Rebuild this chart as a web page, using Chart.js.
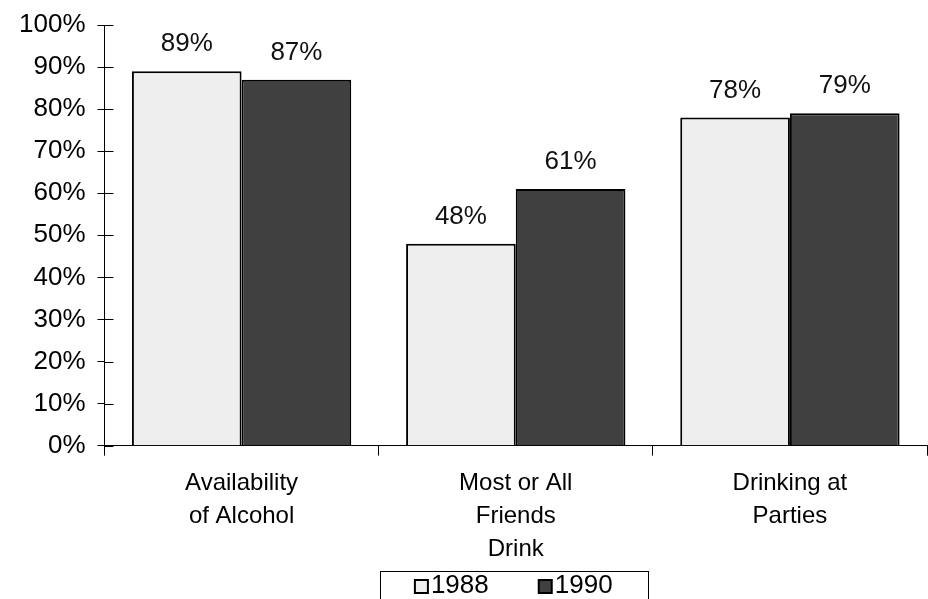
<!DOCTYPE html>
<html>
<head>
<meta charset="utf-8">
<script src="https://cdn.jsdelivr.net/npm/chart.js@4.4.1/dist/chart.umd.min.js"></script>
<style>
  html, body { margin: 0; padding: 0; background: #fff; }
  #wrap { width: 928px; height: 599px; }
</style>
</head>
<body>
<div id="wrap"><canvas id="mychart" width="928" height="599"></canvas></div>
<script>
	const categories = [['Availability', 'of Alcohol'], ['Most or All', 'Friends', 'Drink'], ['Drinking at', 'Parties']];
	const values1988 = [89, 48, 78];
	const values1990 = [87, 61, 79];
	const yTicks = [0, 10, 20, 30, 40, 50, 60, 70, 80, 90, 100];

	const font = 'Liberation Sans, Arial, sans-serif';

	// value labels above each bar
	const barLabels = {
		id: 'barLabels',
		afterDatasetsDraw(chart) {
			const ctx = chart.ctx;
			ctx.save();
			ctx.font = '26px ' + font;
			ctx.fillStyle = '#111';
			ctx.textAlign = 'center';
			ctx.textBaseline = 'alphabetic';
			chart.data.datasets.forEach(function (ds, i) {
				chart.getDatasetMeta(i).data.forEach(function (bar, j) {
					ctx.fillText(ds.data[j] + '%', bar.x, bar.y - 20);
				});
			});
			ctx.restore();
		}
	};

	// y tick marks crossing the axis + boxed legend at the bottom
	const extras = {
		id: 'extras',
		afterDraw(chart) {
			const ctx = chart.ctx;
			const y = chart.scales.y;
			const area = chart.chartArea;
			ctx.save();
			ctx.strokeStyle = '#000';
			ctx.lineWidth = 1;
			ctx.beginPath();
			y.ticks.forEach(function (t) {
				const py = Math.round(y.getPixelForValue(t.value)) + 0.5;
				ctx.moveTo(y.right, py);
				ctx.lineTo(y.right + 9, py);
			});
			ctx.stroke();

			// legend
			ctx.font = '26px ' + font;
			ctx.textBaseline = 'alphabetic';
			ctx.textAlign = 'left';
			const box = 13, gapBox = 3, gapItem = 50;
			const items = chart.data.datasets.map(function (ds) {
				return { text: ds.label, fill: ds.backgroundColor, w: ctx.measureText(ds.label).width };
			});
			let total = 0;
			items.forEach(function (it, i) { total += box + gapBox + it.w + (i ? gapItem : 0); });
			const cx = (area.left + area.right) / 2 - 2;
			let x = cx - total / 2;
			const base = 593;
			ctx.strokeRect(Math.round(cx - 134) + 0.5, 571.5, 268, 40);
			items.forEach(function (it) {
				ctx.fillStyle = it.fill;
				ctx.fillRect(x, base - box, box, box);
				ctx.lineWidth = 2;
				ctx.strokeRect(x, base - box, box, box);
				ctx.fillStyle = '#000';
				ctx.fillText(it.text, x + box + gapBox, base);
				x += box + gapBox + it.w + gapItem;
			});
			ctx.restore();
		}
	};

	var ctx = document.getElementById('mychart').getContext('2d');
	var myChart = new Chart(ctx, {
		type: 'bar',
		data: {
			labels: categories,
			datasets: [{
				label: '1988',
				data: values1988,
				backgroundColor: '#eeeeee',
				borderColor: '#000',
				borderWidth: 2,
				borderSkipped: 'bottom'
			}, {
				label: '1990',
				data: values1990,
				backgroundColor: '#404040',
				borderColor: '#000',
				borderWidth: 2,
				borderSkipped: 'bottom'
			}]
		},
		options: {
			responsive: false,
			animation: false,
			layout: { padding: { top: 9, right: 1, left: 7, bottom: 22 } },
			datasets: { bar: { categoryPercentage: 0.8, barPercentage: 1.0 } },
			plugins: {
				tooltip: { enabled: false },
				legend: { display: false }
			},
			scales: {
				x: {
					grid: { offset: true, drawOnChartArea: false, tickLength: 10, color: '#000' },
					border: { color: '#000' },
					ticks: { font: { family: font, size: 24, lineHeight: 1.38 }, color: '#000', padding: 11, maxRotation: 0 }
				},
				y: {
					min: 0,
					max: 100,
					afterBuildTicks: function (axis) { axis.ticks = yTicks.map(function (v) { return { value: v }; }); },
					grid: { drawOnChartArea: false, tickLength: 7, color: '#000' },
					border: { color: '#000' },
					ticks: {
						font: { family: font, size: 26, lineHeight: 1.0 },
						color: '#000',
						padding: 12,
						callback: function (v) { return v + '%'; }
					}
				}
			}
		},
		plugins: [barLabels, extras]
	});
</script>
</body>
</html>
